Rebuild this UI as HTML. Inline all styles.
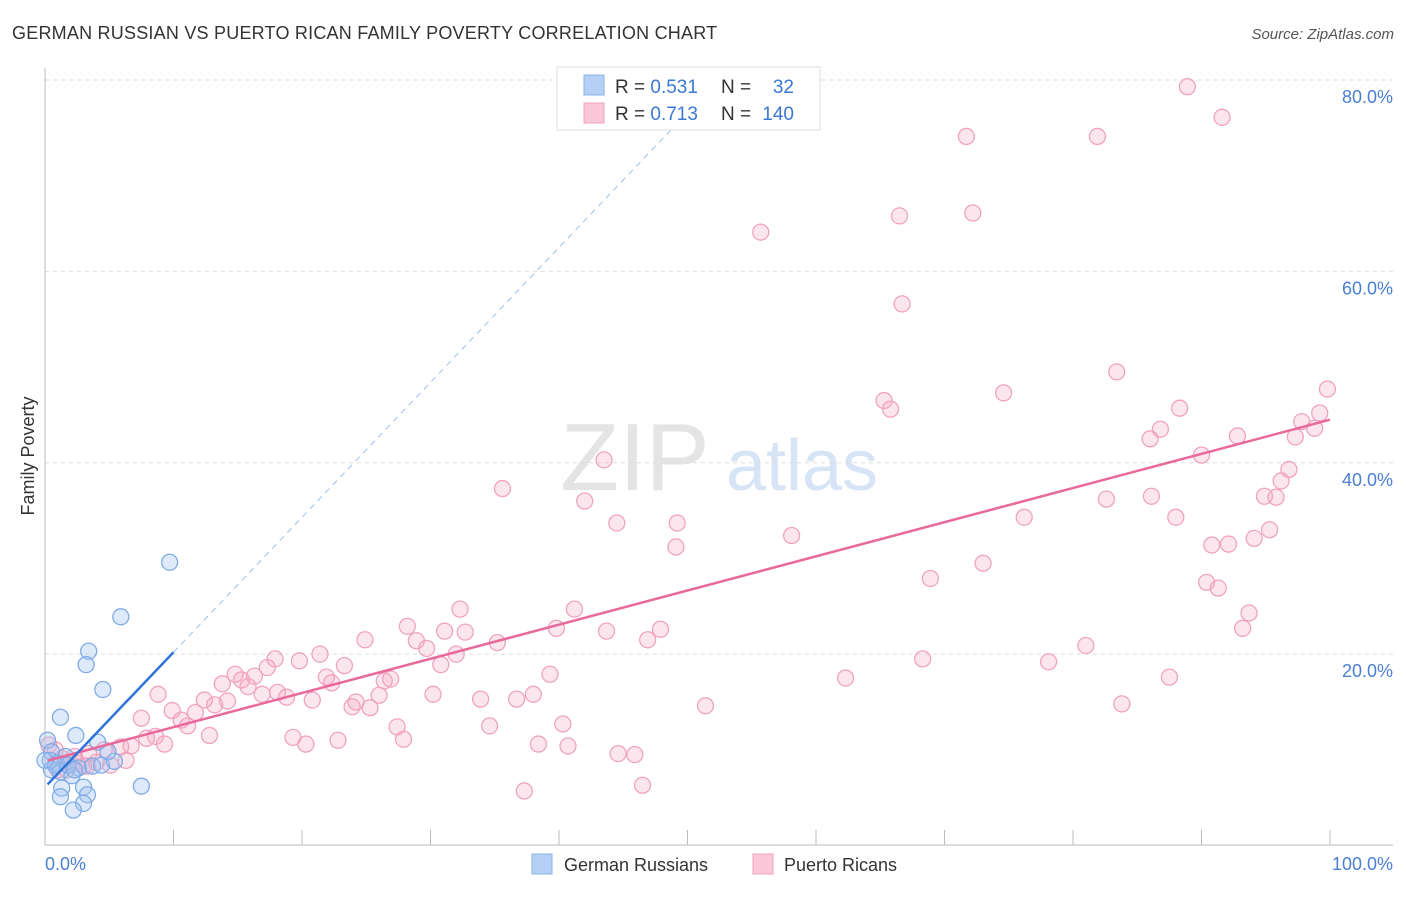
<!DOCTYPE html>
<html><head><meta charset="utf-8">
<style>
body{margin:0;background:#fff;font-family:"Liberation Sans",sans-serif;}
svg text{font-family:"Liberation Sans",sans-serif;}
</style></head>
<body>
<svg id="chart" width="1406" height="892" viewBox="0 0 1406 892" xmlns="http://www.w3.org/2000/svg">
<text x="12" y="39" font-size="18" fill="#333" letter-spacing="0.22">GERMAN RUSSIAN VS PUERTO RICAN FAMILY POVERTY CORRELATION CHART</text>
<text x="1394" y="39" font-size="15" fill="#555" font-style="italic" text-anchor="end">Source: ZipAtlas.com</text>
<g>
<text x="635" y="490" font-size="96" fill="#e4e4e4" font-family="Liberation Serif" text-anchor="middle">ZIP</text>
<text x="802" y="490" font-size="72" fill="#d6e4f5" text-anchor="middle">atlas</text>
</g>
<g id="grid"></g>
<g id="axes"></g>
<g id="marks"></g>
<text transform="translate(34,456) rotate(-90)" font-size="18" fill="#333" text-anchor="middle">Family Poverty</text>
<text x="45" y="870" font-size="18" fill="#4a7fd4">0.0%</text>
<text x="1393" y="870" font-size="18" fill="#4a7fd4" text-anchor="end">100.0%</text>
<g>
<rect x="557" y="67" width="263" height="63" fill="#fff" stroke="#ddd"/>
<rect x="584" y="75" width="20" height="20" fill="#b5d0f4" stroke="#86b2e8"/>
<rect x="584" y="103" width="20" height="20" fill="#f9c7d8" stroke="#f0a0bd"/>
<text x="615" y="93" font-size="19" fill="#333">R = <tspan fill="#3a78d4">0.531</tspan></text>
<text x="721" y="93" font-size="19" fill="#333">N =</text><text x="794" y="93" font-size="19" fill="#3a78d4" text-anchor="end">32</text>
<text x="615" y="120" font-size="19" fill="#333">R = <tspan fill="#3a78d4">0.713</tspan></text>
<text x="721" y="120" font-size="19" fill="#333">N =</text><text x="794" y="120" font-size="19" fill="#3a78d4" text-anchor="end">140</text>
</g>
<g>
<rect x="532" y="854" width="20" height="20" fill="#b5d0f4" stroke="#86b2e8"/>
<text x="564" y="871" font-size="18" fill="#333">German Russians</text>
<rect x="753" y="854" width="20" height="20" fill="#f9c7d8" stroke="#f0a0bd"/>
<text x="784" y="871" font-size="18" fill="#333">Puerto Ricans</text>
</g>
</svg>
<script>
const yTicks=[20,40,60,80];
const yTickLabels=["20.0%","40.0%","60.0%","80.0%"];
const xTicks=[10,20,30,40,50,60,70,80,90,100];
const pinkX=[88.9,71.7,81.9,91.6,66.5,72.2,55.7,66.7,83.4,74.6,99.8,65.3,65.8,88.3,99.2,86.8,86.0,92.8,97.8,98.8,97.3,43.5,90.0,96.8,35.6,96.2,94.9,95.8,42.0,82.6,86.1,88.0,76.2,44.5,49.2,49.1,58.1,95.3,94.1,90.8,92.1,73.0,68.9,90.4,91.3,93.7,93.2,32.3,41.2,28.2,47.9,39.8,43.7,31.1,32.7,28.9,29.7,35.2,46.9,24.9,32.0,21.4,68.3,78.1,81.0,17.9,19.8,17.3,23.3,30.8,14.8,39.3,62.3,87.5,26.9,26.4,21.9,22.3,15.3,16.3,13.8,15.8,30.2,38.0,16.9,18.1,18.8,26.0,8.8,12.4,20.8,33.9,36.7,14.2,24.2,23.9,25.3,13.2,51.4,83.8,9.9,11.7,7.5,10.6,11.1,27.4,34.6,40.3,12.8,19.3,27.9,22.8,20.3,7.9,8.6,6.7,5.9,9.3,38.4,40.7,44.6,45.9,6.3,4.6,3.4,4.0,2.5,5.1,3.3,1.9,1.3,0.8,0.3,1.0,46.5,37.3,1.7,2.3,3.0];
const pinkY=[79.3,74.1,74.1,76.1,65.8,66.1,64.1,56.6,49.5,47.3,47.7,46.5,45.6,45.7,45.2,43.5,42.5,42.8,44.3,43.6,42.7,40.3,40.8,39.3,37.3,38.1,36.5,36.4,36.0,36.2,36.5,34.3,34.3,33.7,33.7,31.2,32.4,33.0,32.1,31.4,31.5,29.5,27.9,27.5,26.9,24.3,22.7,24.7,24.7,22.9,22.6,22.7,22.4,22.4,22.3,21.4,20.6,21.2,21.5,21.5,20.0,20.0,19.5,19.2,20.9,19.5,19.3,18.6,18.8,18.9,17.9,17.9,17.5,17.6,17.4,17.2,17.6,17.0,17.3,17.7,16.9,16.6,15.8,15.8,15.8,16.0,15.5,15.7,15.8,15.2,15.2,15.3,15.3,15.1,15.0,14.5,14.4,14.7,14.6,14.8,14.1,13.9,13.3,13.1,12.5,12.4,12.5,12.7,11.5,11.3,11.1,11.0,10.6,11.2,11.4,10.4,10.3,10.6,10.6,10.4,9.6,9.5,8.9,10.0,9.6,8.7,8.6,8.4,8.3,8.7,9.1,10.0,10.5,7.9,6.3,5.7,7.9,9.3,8.3];
const blueX=[9.7,5.9,3.4,3.2,4.5,1.2,0.2,2.4,4.1,0.5,0.9,1.6,2.6,3.7,4.4,5.4,4.9,0.5,1.2,2.1,3.0,1.3,1.2,3.3,3.0,2.2,7.5,0.4,0.8,1.8,2.3,0.0];
const blueY=[29.6,23.9,20.3,18.9,16.3,13.4,11.0,11.5,10.8,9.8,8.6,9.3,8.1,8.3,8.4,8.8,9.8,7.9,7.7,7.3,6.1,6.0,5.1,5.3,4.4,3.7,6.2,8.9,8.4,8.4,7.9,8.9];
const blueTrend=[6.1,1.41]; // intercept, slope
const pinkTrend=[8.8,0.357];

const NS="http://www.w3.org/2000/svg";
const X0=45,X1=1330,Y0=845.5,Y80=80;
const sx=v=>X0+(X1-X0)*v/100;
const sy=v=>Y0-(Y0-Y80)*v/80;
function mk(tag,attrs,parent){const e=document.createElementNS(NS,tag);for(const k in attrs)e.setAttribute(k,attrs[k]);parent.appendChild(e);return e;}
const grid=document.getElementById('grid'),axes=document.getElementById('axes'),marks=document.getElementById('marks');
yTicks.forEach((t,i)=>{
 const l=mk('line',{x1:45,x2:1393,y1:sy(t),y2:sy(t),stroke:'#ddd','stroke-dasharray':'4,4'},grid);
 
 
 const tx=mk('text',{x:1393,y:sy(t)+23,'font-size':18,fill:'#4a7fd4','text-anchor':'end'},axes);
 tx.textContent=yTickLabels[i];
 
 
});
const ax=mk('line',{x1:45,x2:1393,y1:845,y2:845,stroke:'#bbb'},axes);


const ay=mk('line',{x1:45,x2:45,y1:68,y2:845,stroke:'#bbb'},axes);


xTicks.forEach(t=>{
 const l=mk('line',{x1:sx(t),x2:sx(t),y1:830,y2:845,stroke:'#bbb'},axes);
 
 
});
pinkX.forEach((x,i)=>{
 const c=mk('circle',{cx:sx(x),cy:sy(pinkY[i]),r:8,fill:'rgba(245,165,195,0.28)',stroke:'#f0a3bf','stroke-width':1.3},marks);
 
 
});
blueX.forEach((x,i)=>{
 const c=mk('circle',{cx:sx(x),cy:sy(blueY[i]),r:8,fill:'rgba(160,196,240,0.35)',stroke:'#80ace6','stroke-width':1.3},marks);
 
 
});
const pt=mk('line',{x1:sx(0.2),y1:sy(pinkTrend[0]+pinkTrend[1]*0.2),x2:sx(100),y2:sy(pinkTrend[0]+pinkTrend[1]*100),stroke:'#e8699a','stroke-width':2.5},marks);


const bt=mk('line',{x1:sx(0.2),y1:sy(blueTrend[0]+blueTrend[1]*0.2),x2:sx(10),y2:sy(blueTrend[0]+blueTrend[1]*10),stroke:'#2f74d8','stroke-width':2.5},marks);


const bd=mk('line',{x1:sx(10),y1:sy(blueTrend[0]+blueTrend[1]*10),x2:sx(49.5),y2:sy(blueTrend[0]+blueTrend[1]*49.5),stroke:'#9cc0ec','stroke-width':1,'stroke-dasharray':'6,5'},marks);


</script>
</body></html>
